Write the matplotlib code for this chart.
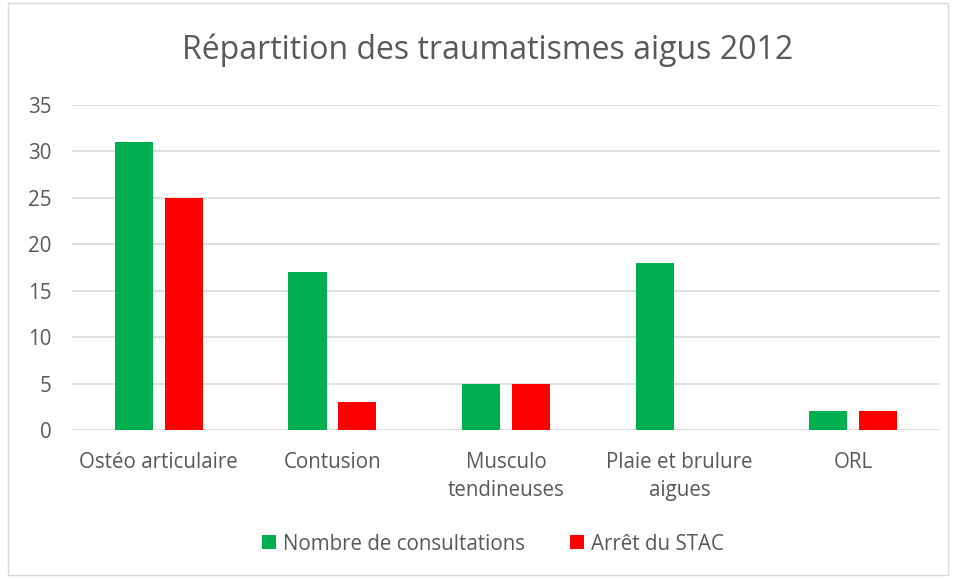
import matplotlib
matplotlib.use("Agg")
import matplotlib.pyplot as plt
import numpy as np
from matplotlib.patches import Rectangle

categories = ["Ostéo articulaire", "Contusion", "Musculo\ntendineuses", "Plaie et brulure\naigues", "ORL"]
consultations = [31, 17, 5, 18, 2]
arret_stac = [25, 3, 5, 0, 2]
series_names = ["Nombre de consultations", "Arrêt du STAC"]
yticks = [0, 5, 10, 15, 20, 25, 30, 35]

plt.rcParams['font.family'] = ['Open Sans', 'DejaVu Sans']
txt = '#595959'
fs = 14.8
fig = plt.figure(figsize=(9.58, 5.79), dpi=100)
ax = fig.add_axes([72/958, 1-430/579, 868/958, 325/579])

x = np.arange(len(categories))
w = 0.22
ax.bar(x - 0.143, consultations, w, color='#00B050', label=series_names[0], zorder=3)
ax.bar(x + 0.143, arret_stac, w, color='#FF0000', label=series_names[1], zorder=3)

ax.set_xlim(-0.5, len(categories) - 0.5)
ax.set_ylim(0, 35)
ax.set_yticks(yticks)
ax.yaxis.grid(True, color='#d9d9d9', linewidth=1.2, zorder=0)
for s in ax.spines.values():
    s.set_visible(False)
ax.tick_params(axis='both', length=0, labelsize=fs, colors=txt)
ax.tick_params(axis='y', pad=15)
ax.tick_params(axis='x', pad=16)
ax.set_xticks(x)
ax.set_xticklabels(categories, linespacing=1.4)

fig.text(488/958, 1-50/579, "Répartition des traumatismes aigus 2012", ha='center', va='center',
         fontsize=23, color=txt)

fig.legend(loc='center', bbox_to_anchor=(493/958, 1-544/579), ncol=2, frameon=False,
           fontsize=fs, labelcolor=txt, handlelength=0.65, handleheight=0.65,
           handletextpad=0.35, columnspacing=2.2)

fig.patches.append(Rectangle((8/958, 4/579), 940/958, 572/579, transform=fig.transFigure,
                             fill=False, edgecolor='#d9d9d9', linewidth=1))
fig.savefig("out.png", dpi=100)
